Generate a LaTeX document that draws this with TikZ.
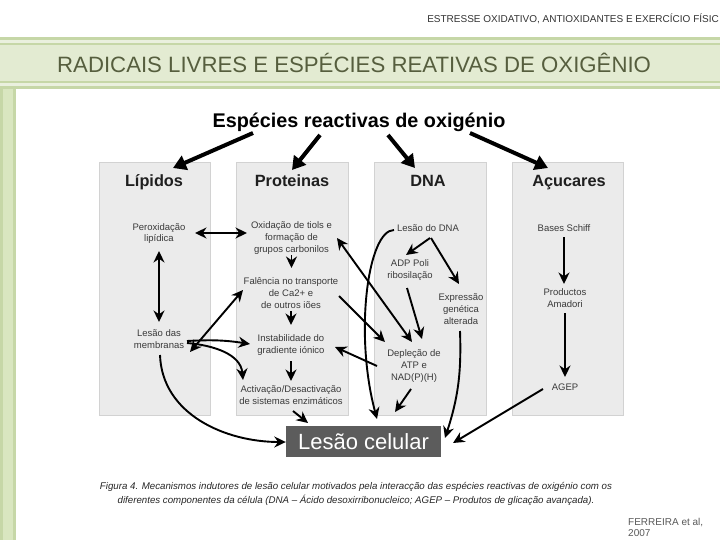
\documentclass[tikz,border=0pt]{standalone}
\usepackage{fontspec}
\setmainfont{Liberation Sans}
\usetikzlibrary{arrows.meta,calc}
\definecolor{bandline}{HTML}{C6D7A7}
\definecolor{bandfill}{HTML}{E3EBD2}
\definecolor{bandlight}{HTML}{EAF0DE}
\definecolor{stripfill}{HTML}{D9E6C0}
\definecolor{titlecol}{HTML}{565E3E}
\definecolor{colfill}{HTML}{EBEBEB}
\definecolor{colline}{HTML}{D2D2D2}
\definecolor{txt}{HTML}{3A3A3A}
\definecolor{celfill}{HTML}{5C5C5C}
\definecolor{hdrcol}{HTML}{333333}
\tikzset{
  colbox/.style={draw=colline, fill=colfill, line width=0.8pt, minimum height=253pt, inner sep=0pt},
  colhead/.style={font=\fontsize{16.3}{18}\selectfont\bfseries, text=black!88, inner sep=0pt, anchor=base},
  itxt/.style={font=\fontsize{9.5}{11.8}\selectfont, text=txt, align=center, inner sep=1pt},
  arr/.style={line width=1.9pt, -{Stealth[length=11.5pt,width=11pt]}},
  darr/.style={line width=1.9pt, {Stealth[length=11.5pt,width=11pt]}-{Stealth[length=11.5pt,width=11pt]}},
  bigarr/.style={line width=4pt, -{Triangle[length=13pt,width=15pt]}},
}
\begin{document}
\begin{tikzpicture}[x=1pt,y=1pt]
\useasboundingbox (0,0) rectangle (720,-540);
\fill[white] (0,0) rectangle (720,-540);
% top band
\fill[bandline] (0,-37) rectangle (720,-89);
\fill[bandlight] (0,-40) rectangle (720,-86);
\fill[bandfill] (0,-44.5) rectangle (720,-81.5);
\draw[bandline, line width=1.2pt] (0,-44) -- (720,-44);
\draw[bandline, line width=1.2pt] (0,-82) -- (720,-82);
% left strip
\fill[bandline] (0,-89) rectangle (15.5,-540);
\fill[stripfill] (2.5,-89) rectangle (13,-540);
% header texts
\node[anchor=east, font=\fontsize{10}{11}\selectfont, text=hdrcol, inner sep=0pt] (hdr) at (719,-19) {ESTRESSE OXIDATIVO, ANTIOXIDANTES E EXERCÍCIO FÍSIC};
\node[anchor=west, font=\fontsize{22.2}{24}\selectfont, text=titlecol, inner sep=0pt] (bigtitle) at (57,-63) {RADICAIS LIVRES E ESPÉCIES REATIVAS DE OXIGÊNIO};
% columns
\node[colbox, minimum width=111pt] (blip) at (154.5,-288.5) {};
\node[colbox, minimum width=112pt] (bprot) at (292,-288.5) {};
\node[colbox, minimum width=112pt] (bdna) at (430,-288.5) {};
\node[colbox, minimum width=111pt] (bacu) at (567.5,-288.5) {};
% title and headers
\node[font=\fontsize{19.8}{22}\selectfont\bfseries, inner sep=0pt, anchor=base] (title) at (359,-128) {Espécies reactivas de oxigénio};
\node[colhead] (hlip) at (154,-187) {Lípidos};
\node[colhead] (hprot) at (292,-187) {Proteinas};
\node[colhead] (hdna) at (428,-187) {DNA};
\node[colhead] (hacu) at (569,-187) {Açucares};
% inner texts
\node[itxt] (pero) at (159,-233.5) {Peroxidação\\lipídica};
\node[itxt] (lmem) at (159,-339.5) {Lesão das\\membranas};
\node[itxt] (oxid) at (291.5,-238) {Oxidação de tiols e\\formação de\\grupos carbonilos};
\node[itxt] (falen) at (291,-293) {Falência no transporte\\de Ca2+ e\\de outros iões};
\node[itxt] (instab) at (291,-345) {Instabilidade do\\gradiente iónico};
\node[itxt] (activ) at (291,-395.5) {Activação/Desactivação\\de sistemas enzimáticos};
\node[itxt] (ldna) at (428,-228) {Lesão do DNA};
\node[itxt] (adp) at (410,-270) {ADP Poli\\ribosilação};
\node[itxt] (expr) at (461,-309) {Expressão\\genética\\alterada};
\node[itxt] (depl) at (414,-366) {Depleção de\\ATP e\\NAD(P)(H)};
\node[itxt] (schiff) at (564,-228) {Bases Schiff};
\node[itxt] (amad) at (565,-298.5) {Productos\\Amadori};
\node[itxt] (agep) at (565,-387) {AGEP};
% lesao celular
\node[fill=celfill, minimum width=155pt, minimum height=31pt, inner sep=0pt, text=white, font=\fontsize{22}{24}\selectfont] (lcel) at (363.5,-441.5) {Lesão celular};
% top arrows
\draw[bigarr] ($(title.base)+(-106,-5)$) -- ($(hlip.base)+(19,19)$);
\draw[bigarr] ($(title.base)+(-39,-7)$) -- ($(hprot.base)+(0,17)$);
\draw[bigarr] ($(title.base)+(29,-7)$) -- ($(hdna.base)+(-13,19)$);
\draw[bigarr] ($(title.base)+(111,-5)$) -- ($(hacu.base)+(-21,19)$);
% lipidos / proteinas
\draw[darr] ($(pero)+(36,0.5)$) -- ($(oxid)+(-44.5,5)$);
\draw[darr] ($(pero)+(0,-17.5)$) -- ($(lmem)+(0,17.5)$);
\draw[darr] ($(lmem)+(31,-12.5)$) -- ($(falen)+(-48,3)$);
\draw[arr] ($(lmem)+(28,-1.5)$) to[bend left=6] ($(instab)+(-41,1)$);
\draw[arr] ($(lmem)+(28,-3.5)$) to[out=-5,in=95] ($(activ)+(-48,15.5)$);
\draw[arr] ($(lmem)+(1,-15.5)$) to[out=-88,in=180] ($(lcel.west)+(0,-0.5)$);
\draw[arr] ($(oxid)+(0,-17)$) -- ($(falen)+(0.5,25)$);
\draw[arr] ($(falen)+(0,-18)$) -- ($(instab)+(0,20)$);
\draw[arr] ($(instab)+(0,-16)$) -- ($(activ)+(0,14.5)$);
\draw[arr] ($(activ)+(2,-15.5)$) -- ($(lcel)+(-55.5,18.5)$);
% DNA
\draw[arr] ($(ldna)+(2,-10)$) -- ($(adp)+(-4,15)$);
\draw[arr] ($(ldna)+(3,-10)$) -- ($(expr)+(-2,25)$);
\draw[arr] ($(ldna)+(-34,-2)$) to[out=180,in=105,out looseness=0.35,in looseness=1.2] ($(lcel)+(13.5,22.5)$);
\draw[arr] ($(adp)+(-3,-18)$) -- ($(depl)+(8,27)$);
\draw[darr] ($(oxid)+(45.5,0)$) -- ($(depl)+(-2,24)$);
\draw[arr] ($(falen)+(48,-3)$) -- ($(depl)+(-29,24)$);
\draw[arr] ($(depl)+(-37,0)$) -- ($(instab)+(44,-2)$);
\draw[arr] ($(depl)+(-3,-23)$) -- ($(lcel)+(31.5,29.5)$);
\draw[arr] ($(expr)+(-1,-22)$) to[bend left=10] ($(lcel)+(81.5,3.5)$);
% acucares
\draw[arr] ($(schiff)+(0,-9)$) -- ($(amad)+(-1,14.5)$);
\draw[arr] ($(amad)+(0,-14.5)$) -- ($(agep)+(0,10)$);
\draw[arr] ($(agep)+(-22,-2)$) -- ($(lcel)+(89.5,-1.5)$);
% caption
\node[font=\fontsize{9.7}{14}\selectfont\itshape, align=center, inner sep=0pt, text=black!85] (caption) at (356,-494) {Figura 4. Mecanismos indutores de lesão celular motivados pela interacção das espécies reactivas de oxigénio com os\\diferentes componentes da célula (DNA – Ácido desoxirribonucleico; AGEP – Produtos de glicação avançada).};
\node[anchor=north west, font=\fontsize{10}{11.2}\selectfont, align=left, inner sep=0pt, text=black!65] (ref) at (628,-518) {FERREIRA et al,\\2007};
\end{tikzpicture}
\end{document}
